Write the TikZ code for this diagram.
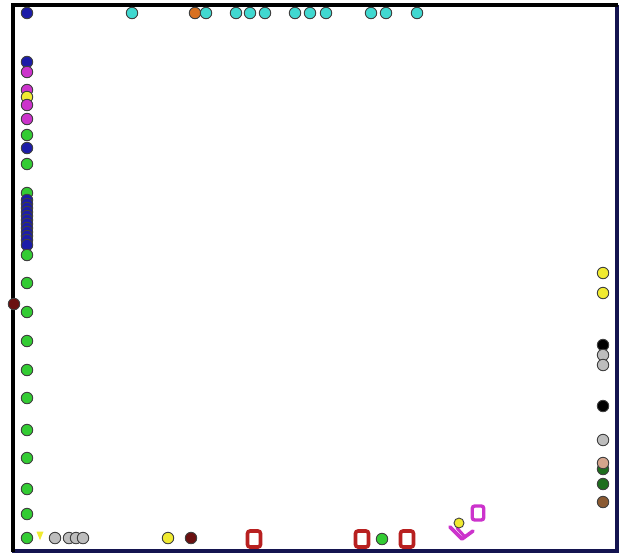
\documentclass[tikz,border=0pt]{standalone}
\usetikzlibrary{shapes.geometric}
\definecolor{cyanc}{HTML}{40D8D0}
\definecolor{greenc}{HTML}{33CC33}
\definecolor{bluec}{HTML}{1C1CA8}
\definecolor{magc}{HTML}{CC33CC}
\definecolor{yelc}{HTML}{F0EA30}
\definecolor{maroonc}{HTML}{6A1010}
\definecolor{orangec}{HTML}{D87020}
\definecolor{grayc}{HTML}{BDBDBD}
\definecolor{tanc}{HTML}{D4A48C}
\definecolor{dgreenc}{HTML}{1E6E1E}
\definecolor{brownc}{HTML}{8A5A32}
\definecolor{redc}{HTML}{B82020}
\definecolor{navyc}{HTML}{141450}
\tikzset{
  dot/.style={circle, draw=black!75, line width=0.9pt, fill=#1, minimum size=11.5pt, inner sep=0pt},
  sq/.style={draw=#1, line width=3.6pt, rounded corners=2.5pt, minimum width=13pt, minimum height=16pt, inner sep=0pt},
}
\begin{document}
\begin{tikzpicture}[x=1pt,y=-1pt]
\useasboundingbox (0,0) rectangle (623,555);
\fill[white] (0,0) rectangle (623,555);
% frame
\draw[navyc, line width=3.5pt] (617,5) -- (617,551) -- (12,551);
\draw[black, line width=3.5pt] (13,552) -- (13,5) -- (618,5);
% top row
\node[dot=bluec] (a0) at (27,13) {};
\node[dot=cyanc] (a1) at (132,13) {};
\node[dot=orangec] (a2) at (195,13) {};
\node[dot=cyanc] (a3) at (206,13) {};
\node[dot=cyanc] (a4) at (236,13) {};
\node[dot=cyanc] (a5) at (250,13) {};
\node[dot=cyanc] (a6) at (265,13) {};
\node[dot=cyanc] (a7) at (295,13) {};
\node[dot=cyanc] (a8) at (310,13) {};
\node[dot=cyanc] (a9) at (326,13) {};
\node[dot=cyanc] (a10) at (371,13) {};
\node[dot=cyanc] (a11) at (386,13) {};
\node[dot=cyanc] (a12) at (417,13) {};
% left column
\node[dot=bluec] (l1) at (27,62) {};
\node[dot=magc] (l2) at (27,72) {};
\node[dot=magc] (l3) at (27,90) {};
\node[dot=yelc] (l4) at (27,97) {};
\node[dot=magc] (l5) at (27,105) {};
\node[dot=magc] (l6) at (27,119) {};
\node[dot=greenc] (l7) at (27,135) {};
\node[dot=bluec] (l8) at (27,148) {};
\node[dot=greenc] (l9) at (27,164) {};
\node[dot=greenc] (l10) at (27,193) {};
\foreach \i/\y in {1/200,2/204,3/208,4/212,5/216,6/220,7/224,8/228,9/232,10/236,11/240,12/245}
  \node[dot=bluec] (b\i) at (27,\y) {};
\node[dot=greenc] (l11) at (27,255) {};
\node[dot=greenc] (l12) at (27,283) {};
\node[dot=maroonc] (l13) at (14,304) {};
\node[dot=greenc] (l14) at (27,312) {};
\node[dot=greenc] (l15) at (27,341) {};
\node[dot=greenc] (l16) at (27,370) {};
\node[dot=greenc] (l17) at (27,398) {};
\node[dot=greenc] (l18) at (27,430) {};
\node[dot=greenc] (l19) at (27,458) {};
\node[dot=greenc] (l20) at (27,489) {};
\node[dot=greenc] (l21) at (27,514) {};
\node[dot=greenc] (l22) at (27,538) {};
% bottom row
\node[fill=yelc, isosceles triangle, shape border rotate=-90, minimum size=7pt, inner sep=0pt] (c0) at (40,534) {};
\node[dot=grayc] (c1) at (55,538) {};
\node[dot=grayc] (c2) at (69,538) {};
\node[dot=grayc] (c3) at (76,538) {};
\node[dot=grayc] (c4) at (83,538) {};
\node[dot=yelc] (c5) at (168,538) {};
\node[dot=maroonc] (c6) at (191,538) {};
\node[sq=redc] (r1) at (254,539) {};
\node[sq=redc] (r2) at (362,539) {};
\node[dot=greenc] (c7) at (382,539) {};
\node[sq=redc] (r3) at (407,539) {};
% magenta shape
\node[sq=magc, line width=3.4pt, minimum width=11.5pt, minimum height=14pt] (m1) at (478,513) {};
\draw[magc, line width=3.6pt, line cap=round, line join=round] (450,527) -- (462,539) -- (473,531);
\draw[magc, line width=3pt, line cap=round] (457,528) -- (465,537);
\node[dot=yelc, minimum size=10pt] (c8) at (459,523) {};
% right column
\node[dot=yelc] (q1) at (603,273) {};
\node[dot=yelc] (q2) at (603,293) {};
\node[dot=black] (q3) at (603,345) {};
\node[dot=grayc] (q4) at (603,355) {};
\node[dot=grayc] (q5) at (603,365) {};
\node[dot=black] (q6) at (603,406) {};
\node[dot=grayc] (q7) at (603,440) {};
\node[dot=dgreenc] (q8) at (603,469) {};
\node[dot=tanc] (q9) at (603,463) {};
\node[dot=dgreenc] (q10) at (603,484) {};
\node[dot=brownc] (q11) at (603,502) {};
\end{tikzpicture}
\end{document}
